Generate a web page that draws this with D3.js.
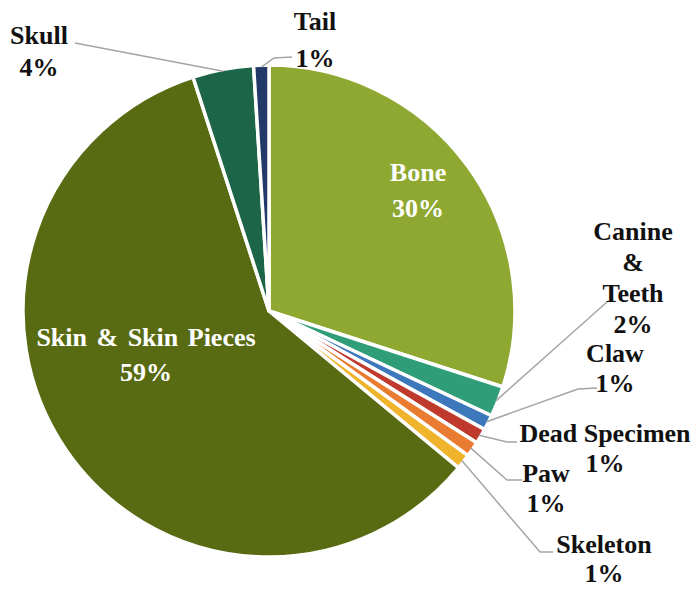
<!DOCTYPE html>
<html>
<head>
<meta charset="utf-8">
<script src="https://cdn.jsdelivr.net/npm/d3@7"></script>
<style>
  html, body { margin: 0; padding: 0; background: #ffffff; }
  svg { display: block; }
  text { font-family: "Liberation Serif", "Times New Roman", serif; font-weight: bold; }
</style>
</head>
<body>
<svg id="chart" width="697" height="589"></svg>
<script>
// Share of seized items by body part (percent)
const categories = ["Bone", "Canine & Teeth", "Claw", "Dead Specimen", "Paw", "Skeleton", "Skin & Skin Pieces", "Skull", "Tail"];
const shares = [30, 2, 1, 1, 1, 1, 59, 4, 1];
const colors = ["#8fa832", "#2f9e78", "#3d78bd", "#bf3a2c", "#e97c30", "#efb42c", "#596b12", "#1d6548", "#22396a"];

const svg = d3.select("#chart");
const cx = 269, cy = 311, R = 246;

const pie = d3.pie().sort(null).value(d => d.value);
const data = categories.map((c, i) => ({ name: c, value: shares[i], color: colors[i] }));
const arcs = pie(data);

const arc = d3.arc().innerRadius(0).outerRadius(R);
const edge = d3.arc().innerRadius(R - 2).outerRadius(R - 2);

const g = svg.append("g").attr("transform", `translate(${cx},${cy})`);

g.selectAll("path.slice")
  .data(arcs)
  .join("path")
  .attr("class", "slice")
  .attr("d", arc)
  .attr("fill", d => d.data.color)
  .attr("stroke", "#ffffff")
  .attr("stroke-width", 3.5)
  .attr("stroke-linejoin", "round");

// Label layout: text lines, anchor centre x, first baseline, line step, leader start points
const layout = {
  "Bone":               { inside: true,  x: 418, y: 181, step: 36, lines: ["Bone"] },
  "Skin & Skin Pieces": { inside: true,  x: 146, y: 346, step: 35, lines: ["Skin & Skin Pieces"], wordSpacing: 3 },
  "Skull":              { x: 39,  y: 44,  step: 32, lines: ["Skull"], leader: [[75, 43]] },
  "Tail":               { x: 315, y: 30,  step: 37, lines: ["Tail"], leader: [[292, 57], [274, 58]] },
  "Canine & Teeth":     { x: 633, y: 240, step: 31, lines: ["Canine", "&", "Teeth"], leader: [[607, 302]] },
  "Claw":               { x: 615, y: 362, step: 30, lines: ["Claw"], leader: [[597, 388], [578, 389]] },
  "Dead Specimen":      { x: 605, y: 442, step: 30, lines: ["Dead Specimen"], leader: [[517, 442], [507, 442]] },
  "Paw":                { x: 546, y: 482, step: 30, lines: ["Paw"], leader: [[522, 480], [507, 480]] },
  "Skeleton":           { x: 604, y: 553, step: 29, lines: ["Skeleton"], leader: [[553, 552], [540, 552]] }
};

const lineGen = d3.line();

arcs.forEach(a => {
  const L = layout[a.data.name];
  const pct = a.data.value + "%";
  if (!L.inside && L.leader) {
    const p = edge.centroid(a);
    const pts = L.leader.concat([[p[0] + cx, p[1] + cy]]);
    svg.append("path")
      .attr("d", lineGen(pts))
      .attr("fill", "none")
      .attr("stroke", "#a5a5a5")
      .attr("stroke-width", 1.5);
  }
  const t = svg.append("text")
    .attr("text-anchor", "middle")
    .attr("font-size", 26)
    .attr("word-spacing", L.wordSpacing || 0)
    .attr("fill", L.inside ? "#ffffff" : "#111111");
  const allLines = L.lines.concat([pct]);
  allLines.forEach((s, i) => {
    t.append("tspan")
      .attr("x", L.x)
      .attr("y", L.y + i * L.step)
      .text(s);
  });
});
</script>
</body>
</html>
